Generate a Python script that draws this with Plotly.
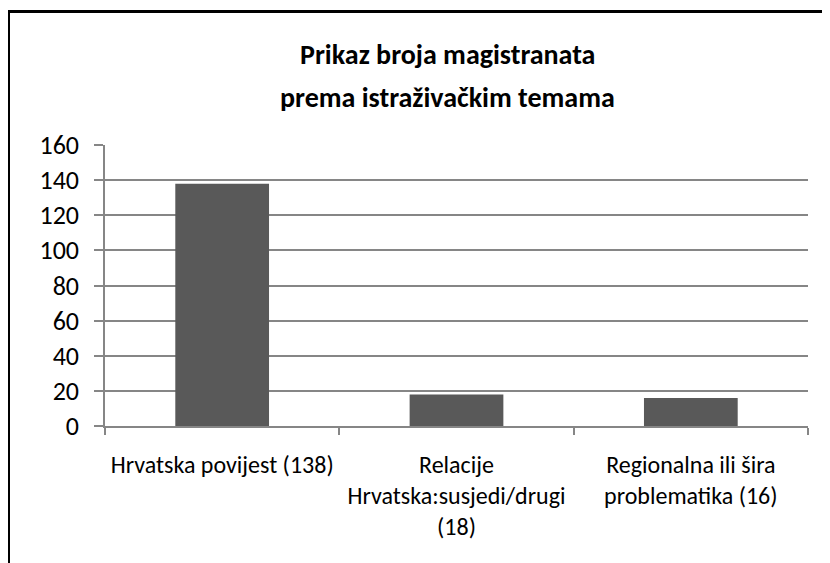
import plotly.graph_objects as go

categories = ["Hrvatska povijest (138)",
              "Relacije<br>Hrvatska:susjedi/drugi<br>(18)",
              "Regionalna ili šira<br>problematika (16)"]
values = [138, 18, 16]
title_lines = ["Prikaz broja magistranata", "prema istraživačkim temama"]
y_ticks = [0, 20, 40, 60, 80, 100, 120, 140, 160]

FONT = "Carlito, Calibri, 'Liberation Sans Narrow', Roboto, sans-serif"
AXIS_GREY = "#868686"

# the page body adds an 8px margin, so shift everything by that
OFF = 8
W, H = 830 - OFF, 563 - OFF
# plot area in pixels (from the reference)
L, R, T, B = 105 - OFF, 808 - OFF, 145 - OFF, 426 - OFF
pw, ph = R - L, B - T


def px_x(x):
    return (x - OFF - L) / pw


def px_y(y):
    return (B - (y - OFF)) / ph


fig = go.Figure()

fig.add_trace(go.Bar(
    x=categories,
    y=values,
    marker=dict(color="#595959", line=dict(width=0)),
    hoverinfo="x+y",
    showlegend=False
))

# title, two centred lines
for line, yp in zip(title_lines, [55, 97]):
    fig.add_annotation(
        text=f"<b>{line}</b>",
        x=px_x(447), y=px_y(yp),
        xref="paper", yref="paper",
        showarrow=False,
        font=dict(family=FONT, size=28, color="black"),
        xanchor="center", yanchor="middle"
    )

# chart border (runs off the right and bottom of the picture)
fig.add_shape(
    type="rect",
    xref="paper", yref="paper",
    x0=px_x(8.5), x1=px_x(900),
    y0=px_y(650), y1=px_y(11.5),
    line=dict(color="black", width=3),
    fillcolor="rgba(0,0,0,0)",
    layer="below"
)

fig.update_layout(
    width=W,
    height=H,
    margin=dict(l=L, r=W - R, t=T, b=H - B),
    paper_bgcolor="white",
    plot_bgcolor="white",
    bargap=0.6,
    font=dict(family=FONT, color="black"),
    xaxis=dict(
        tickson="boundaries",
        ticks="outside",
        ticklen=7,
        tickcolor=AXIS_GREY,
        tickwidth=1.5,
        showline=True,
        linecolor=AXIS_GREY,
        linewidth=1.5,
        showgrid=False,
        tickfont=dict(size=24, family=FONT),
        ticklabelstandoff=16,
        fixedrange=True
    ),
    yaxis=dict(
        range=[0, 160],
        tickvals=y_ticks,
        ticks="outside",
        ticklen=9,
        tickcolor=AXIS_GREY,
        tickwidth=1.5,
        showline=True,
        linecolor=AXIS_GREY,
        linewidth=1.5,
        showgrid=True,
        gridcolor=AXIS_GREY,
        gridwidth=1.5,
        zeroline=False,
        tickfont=dict(size=26, family=FONT),
        ticklabelstandoff=10,
        fixedrange=True
    )
)

fig.write_html("out.html")
